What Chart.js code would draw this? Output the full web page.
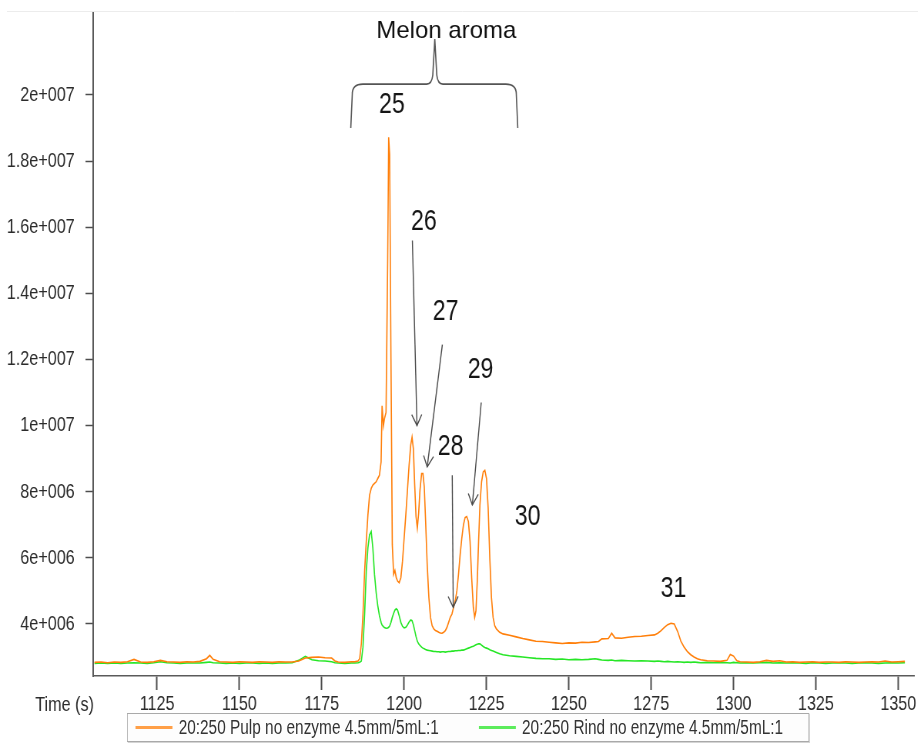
<!DOCTYPE html>
<html>
<head>
<meta charset="utf-8">
<title>Melon aroma chromatogram</title>
<script src="https://cdn.jsdelivr.net/npm/chart.js@4.4.1/dist/chart.umd.min.js"></script>
<style>
  html, body { margin: 0; padding: 0; background: #fff; overflow: hidden; }
  #wrap { position: relative; width: 1192px; height: 743px; transform: scaleX(0.77); transform-origin: 0 0; }
  #legend { position: absolute; left: 165px; top: 713px; width: 884px; height: 27px;
            border: 1px solid #a9a9a9; box-shadow: 1px 1px 0 #d4d4d4; background: #fdfdfd;
            font: 20px "Liberation Sans", Arial, sans-serif; color: #333; }
  .item { position: absolute; top: 0; height: 27px; display: flex; align-items: center; white-space: nowrap; }
  .swatch { display: inline-block; width: 48px; height: 3px; margin-right: 8px; opacity: 0.75; }
</style>
</head>
<body>
<div id="wrap">
  <canvas id="chart" width="1192" height="743"></canvas>
  <div id="legend"></div>
</div>
<script>
// the source screenshot is squashed sideways, so the whole chart is drawn wide and squeezed
const SQUEEZE = 0.77;

const seriesLabels = ['20:250 Pulp no enzyme 4.5mm/5mL:1', '20:250 Rind no enzyme 4.5mm/5mL:1'];
const seriesColors = ['#ff7f0a', '#26e626'];

const xTicks = [1125, 1150, 1175, 1200, 1225, 1250, 1275, 1300, 1325, 1350];
const yTicks = [4, 6, 8, 10, 12, 14, 16, 18, 20]; // millions of counts

// retention time, s
const times = [
  1106,1108,1110,1112,1114,1116,1118,1120,1122,1124,
  1126,1128,1130,1132,1134,1136,1138,1140,1141,1142,
  1144,1146,1148,1150,1152,1154,1156,1158,1160,1162,
  1164,1166,1168,1170,1172,1174,1176,1178,1179,1180,
  1182,1184,
  1185,1186,1186.5,1187,1187.5,1188,1188.5,1189,1189.5,1190,
  1190.5,1191,1191.5,1192,1192.5,1193,1193.3,1193.7,1194,1194.5,
  1195,1195.3,1195.6,1196,1196.4,1196.8,1197.2,1197.6,1198,1198.5,
  1199,1199.5,1200,1200.5,1201,1201.5,1202,1202.4,1202.8,1203.2,
  1203.6,1204,1204.4,1204.8,1205.3,1205.7,1206.1,1206.5,1207,1207.5,
  1208,1208.5,1209,1209.5,1210,1210.5,1211,1211.5,1212,1212.5,
  1213,1213.5,1214,1214.5,1215,1215.5,1216,1216.5,1217,1217.5,
  1218,1218.5,1219,1219.5,1220,1220.5,1221,1221.4,1221.8,1222.2,
  1222.6,1223,1223.5,1224,1224.5,1225,1225.5,1226,1226.5,1227,
  1227.5,1228,1229,1230,
  1232,1234,1236,1238,1240,1242,1244,1246,1248,1250,
  1252,1254,1256,1258,1259,1260,1262,1263,1264,1266,
  1268,1270,1272,1274,1276,1277,1278,1279,1280,1281,
  1282,1283,1284,1285,1286,1287,1288,1289,1290,1292,
  1294,1296,1298,1299,1300,1301,1302,1304,1306,1308,
  1310,1312,1314,1316,1318,1320,1322,1324,1326,1328,
  1330,1332,1334,1336,1338,1340,1342,1344,1346,1348,
  1350,1352
];

// abundance, millions
const pulp = [
  2.84,2.85,2.83,2.85,2.84,2.86,2.93,2.85,2.84,2.86,
  2.90,2.86,2.85,2.84,2.86,2.85,2.87,2.95,3.05,2.93,
  2.86,2.85,2.84,2.86,2.85,2.84,2.86,2.85,2.84,2.86,
  2.85,2.85,2.88,2.97,2.99,3.00,2.98,2.97,2.88,2.85,
  2.84,2.86,
  2.86,2.88,2.95,3.40,4.30,5.60,6.50,7.30,7.90,8.10,
  8.20,8.25,8.30,8.40,8.50,8.90,10.60,10.00,10.20,10.40,
  15.00,18.72,18.20,12.00,6.40,5.50,5.62,5.40,5.30,5.25,
  5.40,5.90,6.60,7.30,8.05,8.80,9.42,9.65,9.30,8.20,
  7.25,6.90,7.35,8.05,8.55,8.55,8.15,7.15,5.80,4.80,
  4.20,3.95,3.85,3.80,3.78,3.75,3.73,3.72,3.75,3.80,
  3.90,4.05,4.20,4.30,4.50,4.70,5.00,5.50,6.10,6.60,
  7.00,7.22,7.25,7.10,6.50,5.40,4.50,4.20,4.40,5.30,
  6.50,7.60,8.30,8.60,8.65,8.40,7.50,6.00,4.80,4.20,
  3.95,3.85,3.75,3.70,
  3.66,3.61,3.56,3.52,3.48,3.47,3.45,3.43,3.41,3.43,
  3.42,3.45,3.44,3.46,3.47,3.55,3.56,3.72,3.58,3.57,
  3.60,3.62,3.63,3.65,3.67,3.72,3.80,3.90,3.98,4.02,
  4.00,3.78,3.48,3.30,3.16,3.07,3.00,2.95,2.92,2.89,
  2.88,2.87,2.90,3.08,3.03,2.89,2.86,2.85,2.84,2.86,
  2.90,2.87,2.89,2.85,2.86,2.84,2.85,2.86,2.84,2.85,
  2.85,2.84,2.86,2.85,2.84,2.85,2.86,2.85,2.88,2.85,
  2.86,2.87
];

const rind = [
  2.81,2.82,2.81,2.82,2.81,2.82,2.83,2.82,2.81,2.83,
  2.86,2.83,2.82,2.81,2.82,2.82,2.82,2.84,2.85,2.83,
  2.82,2.81,2.82,2.81,2.82,2.82,2.81,2.82,2.81,2.82,
  2.82,2.83,2.90,3.02,2.92,2.89,2.88,2.86,2.83,2.82,
  2.81,2.82,
  2.82,2.83,2.84,2.88,3.30,4.30,5.60,6.30,6.70,6.80,
  6.30,5.50,4.95,4.55,4.25,4.05,3.97,3.92,3.89,3.87,
  3.88,3.90,3.94,4.05,4.20,4.32,4.42,4.46,4.42,4.25,
  4.05,3.93,3.88,3.90,3.97,4.06,4.12,4.10,3.98,3.80,
  3.62,3.48,3.40,3.35,3.30,3.27,3.25,3.23,3.21,3.20,
  3.19,3.18,3.17,3.17,3.16,3.16,3.15,3.16,3.16,3.15,
  3.16,3.17,3.17,3.18,3.18,3.19,3.19,3.20,3.20,3.21,
  3.21,3.23,3.25,3.27,3.29,3.31,3.33,3.35,3.37,3.39,
  3.40,3.40,3.36,3.32,3.29,3.27,3.25,3.22,3.20,3.18,
  3.16,3.14,3.10,3.07,
  3.04,3.02,3.00,2.98,2.96,2.95,2.95,2.93,2.94,2.92,
  2.93,2.92,2.93,2.95,2.93,2.91,2.90,2.91,2.89,2.90,
  2.89,2.88,2.89,2.88,2.87,2.88,2.87,2.86,2.87,2.86,
  2.85,2.86,2.85,2.84,2.85,2.84,2.85,2.84,2.83,2.84,
  2.83,2.84,2.83,2.82,2.84,2.83,2.82,2.83,2.82,2.83,
  2.84,2.82,2.83,2.82,2.83,2.82,2.81,2.83,2.82,2.81,
  2.82,2.83,2.82,2.81,2.82,2.83,2.82,2.81,2.82,2.83,
  2.82,2.83
];

// hand-drawn annotations, in data units (time s, millions)
const peakNames = ['25', '26', '27', '28', '29', '30', '31'];
const peakNameTimes = [1196.3, 1206.0, 1212.6, 1214.1, 1223.2, 1237.5, 1281.8];
const peakNameLevels = [19.46, 15.92, 13.2, 9.11, 11.44, 6.99, 4.82];
const arrowTails = [[1202.5, 15.6], [1211.6, 12.45], [1214.6, 8.5], [1223.4, 10.7]];
const arrowHeads = [[1203.9, 10.0], [1207.0, 8.75], [1214.9, 4.5], [1220.7, 7.6]];
const braceSpan = [1183.8, 1234.5];
const braceMid = 1209.3;
const braceLevels = [19.0, 20.33, 21.69];
const titleAt = [1212.8, 21.73];

Chart.defaults.font.family = '"Liberation Sans", Arial, sans-serif';

const overlay = {
  id: 'overlay',
  afterDraw(chart) {
    const {ctx, chartArea, scales: {x, y}} = chart;
    const px = t => x.getPixelForValue(t);
    const py = v => y.getPixelForValue(v);
    const sx = d => d / SQUEEZE;
    ctx.save();

    // faint frame line along the top
    ctx.strokeStyle = '#ececec';
    ctx.lineWidth = 1;
    ctx.beginPath();
    ctx.moveTo(9, chartArea.top - 1.5);
    ctx.lineTo(chart.width, chartArea.top - 1.5);
    ctx.stroke();

    ctx.fillStyle = '#2b2b2b';
    ctx.font = '21px "Liberation Sans", Arial, sans-serif';
    ctx.textAlign = 'right';
    ctx.textBaseline = 'middle';
    ctx.fillText('Time (s)', chartArea.left + 1, chartArea.bottom + 29);

    // peak numbers
    ctx.fillStyle = '#151515';
    ctx.font = '30px "Liberation Sans", Arial, sans-serif';
    ctx.textAlign = 'center';
    ctx.textBaseline = 'alphabetic';
    peakNames.forEach((n, i) => ctx.fillText(n, px(peakNameTimes[i]), py(peakNameLevels[i])));

    // arrows
    ctx.strokeStyle = '#4a4a4a';
    ctx.lineWidth = 1.4;
    arrowTails.forEach((tail, i) => {
      const x0 = px(tail[0]), y0 = py(tail[1]);
      const x1 = px(arrowHeads[i][0]), y1 = py(arrowHeads[i][1]);
      ctx.beginPath();
      ctx.moveTo(x0, y0);
      ctx.lineTo(x1, y1);
      ctx.stroke();
      // head worked out in the on-screen (squeezed) frame
      const dx = (x1 - x0) * SQUEEZE, dy = y1 - y0;
      const len = Math.hypot(dx, dy);
      const ux = dx / len, uy = dy / len;
      const back = 11, half = 5;
      ctx.beginPath();
      ctx.moveTo(x1 + sx(-back * ux - half * uy), y1 - back * uy + half * ux);
      ctx.lineTo(x1, y1);
      ctx.lineTo(x1 + sx(-back * ux + half * uy), y1 - back * uy - half * ux);
      ctx.stroke();
    });

    // curly brace over the melon aroma peaks
    const L = px(braceSpan[0]), R = px(braceSpan[1]), M = px(braceMid);
    const yB = py(braceLevels[0]), yL = py(braceLevels[1]), yT = py(braceLevels[2]);
    const r = 10;
    ctx.strokeStyle = '#555';
    ctx.lineWidth = 1.6;
    ctx.beginPath();
    ctx.moveTo(L, yB);
    ctx.lineTo(L + sx(1.5), yL + r);
    ctx.quadraticCurveTo(L + sx(1.5), yL, L + sx(r + 2), yL);
    ctx.lineTo(M - sx(8), yL);
    ctx.quadraticCurveTo(M - sx(3), yL, M - sx(2), yL - 9);
    ctx.lineTo(M, yT);
    ctx.lineTo(M + sx(2), yL - 9);
    ctx.quadraticCurveTo(M + sx(3), yL, M + sx(8), yL);
    ctx.lineTo(R - sx(r + 2), yL);
    ctx.quadraticCurveTo(R - sx(1.5), yL, R - sx(1.5), yL + r);
    ctx.lineTo(R, yB);
    ctx.stroke();

    // title text is not squeezed in the original
    ctx.save();
    ctx.translate(px(titleAt[0]), py(titleAt[1]));
    ctx.scale(1 / SQUEEZE, 1);
    ctx.font = '24px "Liberation Sans", Arial, sans-serif';
    ctx.fillStyle = '#111';
    ctx.textAlign = 'center';
    ctx.fillText('Melon aroma', 0, 0);
    ctx.restore();

    ctx.restore();
  }
};

const series = [pulp, rind];

new Chart(document.getElementById('chart'), {
  type: 'line',
  data: {
    datasets: seriesLabels.map((label, i) => ({
      label,
      data: times.map((t, k) => ({x: t, y: series[i][k]})),
      borderColor: seriesColors[i],
      backgroundColor: seriesColors[i],
      borderWidth: 1.6,
      pointRadius: 0,
      tension: 0,
      fill: false
    }))
  },
  options: {
    responsive: false,
    animation: false,
    devicePixelRatio: 1,
    layout: { padding: { top: 13, right: 4, bottom: 0, left: 0 } },
    plugins: { legend: { display: false }, tooltip: { enabled: false } },
    scales: {
      x: {
        type: 'linear',
        min: 1105.6,
        max: 1354.8,
        afterBuildTicks: s => { s.ticks = xTicks.map(v => ({ value: v })); },
        afterFit: s => { s.height = 67; },
        grid: { drawOnChartArea: false, tickLength: 14, tickWidth: 2, tickColor: '#4d4d4d' },
        border: { color: '#5a5a5a', width: 1.5 },
        ticks: { color: '#2b2b2b', font: { size: 21 }, padding: 2, maxRotation: 0, autoSkip: false,
                 callback: v => String(v) }
      },
      y: {
        min: 2.427,
        max: 22.48,
        afterBuildTicks: s => { s.ticks = yTicks.map(v => ({ value: v })); },
        afterFit: s => { s.width = 121; s.paddingTop = 0; s.paddingBottom = 0; },
        grid: { drawOnChartArea: false, tickLength: 10, tickWidth: 1.5, tickColor: '#4d4d4d' },
        border: { color: '#5a5a5a', width: 2 },
        ticks: {
          color: '#2b2b2b',
          font: { size: 21 },
          padding: 14,
          callback: v => v >= 10 ? (v / 10) + 'e+007' : v + 'e+006'
        }
      }
    }
  },
  plugins: [overlay]
});

const legend = document.getElementById('legend');
seriesLabels.forEach((label, i) => {
  const item = document.createElement('div');
  item.className = 'item';
  item.style.left = (i === 0 ? 10 : 456) + 'px';
  item.innerHTML = `<span class="swatch" style="background:${seriesColors[i]}"></span><span>${label}</span>`;
  legend.appendChild(item);
});
</script>
</body>
</html>
